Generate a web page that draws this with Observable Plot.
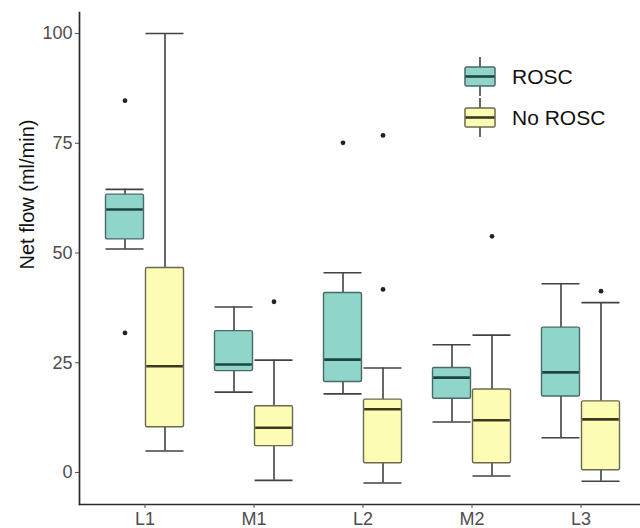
<!DOCTYPE html>
<html><head><meta charset="utf-8">
<script src="https://cdn.jsdelivr.net/npm/d3@7"></script>
<script src="https://cdn.jsdelivr.net/npm/@observablehq/plot@0.6"></script>
<style>
body{margin:0;background:#fff;font-family:"Liberation Sans",Arial,Helvetica,sans-serif;}
#wrap{position:relative;width:640px;height:528px;overflow:hidden;}
.legend{position:absolute;left:462px;top:56px;font-size:21px;color:#111;}
.item{display:flex;align-items:center;height:41px;}
.item svg{display:block;margin-right:14px;}
</style></head><body><div id="wrap"></div>
<script>
const categories = ["L1", "M1", "L2", "M2", "L3"];
const seriesNames = ["ROSC", "No ROSC"];
const yTicks = [0, 25, 50, 75, 100];
const yTitle = "Net flow (ml/min)";

// ROSC
const roscLow  = [50.9, 18.3, 17.9, 11.5, 7.9];
const roscQ1   = [53.1, 23.1, 20.6, 16.8, 17.3];
const roscMed  = [59.9, 24.6, 25.7, 21.6, 22.8];
const roscQ3   = [63.3, 32.2, 40.9, 23.8, 33.0];
const roscHigh = [64.5, 37.7, 45.5, 29.1, 43.0];
const roscOutCat = ["L1", "L1", "L2"];
const roscOutVal = [84.7, 31.8, 75.1];

// No ROSC
const noLow  = [4.9, -1.8, -2.4, -0.8, -2.0];
const noQ1   = [10.3, 6.0, 2.1, 2.1, 0.5];
const noMed  = [24.2, 10.2, 14.4, 11.9, 12.1];
const noQ3   = [46.6, 15.1, 16.6, 18.9, 16.2];
const noHigh = [100, 25.6, 23.8, 31.3, 38.7];
const noOutCat = ["M1", "L2", "L2", "M2", "L3"];
const noOutVal = [38.9, 76.8, 41.7, 53.8, 41.3];

const fills = ["#8fd5c9", "#fdfcb5"];
const strokes = ["#4a6a65", "#69694f"];
const medians = ["#1e4640", "#3a3a22"];
const whisk = "#424242";

const yDomain = [-7.3, 104.8];

function rows(low, q1, med, q3, high) {
  return categories.map((c, i) => ({cat: c, low: low[i], q1: q1[i], med: med[i], q3: q3[i], high: high[i]}));
}
function outs(cats, vals) { return cats.map((c, i) => ({cat: c, v: vals[i]})); }

function boxMarks(data, out, k, iL, iR, dx) {
  return [
    Plot.ruleX(data, {x: "cat", y1: "low", y2: "q1", dx, stroke: whisk, strokeWidth: 1.6}),
    Plot.ruleX(data, {x: "cat", y1: "q3", y2: "high", dx, stroke: whisk, strokeWidth: 1.6}),
    Plot.tickY(data, {x: "cat", y: "low", insetLeft: iL, insetRight: iR, stroke: whisk, strokeWidth: 1.6}),
    Plot.tickY(data, {x: "cat", y: "high", insetLeft: iL, insetRight: iR, stroke: whisk, strokeWidth: 1.6}),
    Plot.barY(data, {x: "cat", y1: "q1", y2: "q3", insetLeft: iL, insetRight: iR, fill: fills[k], stroke: strokes[k], strokeWidth: 1.4, rx: 1.5}),
    Plot.tickY(data, {x: "cat", y: "med", insetLeft: iL + 0.7, insetRight: iR + 0.7, stroke: medians[k], strokeWidth: 2.6}),
    Plot.dot(out, {x: "cat", y: "v", dx, r: 2.4, fill: "#222", stroke: "none"})
  ];
}

const rosc = rows(roscLow, roscQ1, roscMed, roscQ3, roscHigh);
const noR = rows(noLow, noQ1, noMed, noQ3, noHigh);

const chart = Plot.plot({
  width: 640,
  height: 528,
  marginTop: 12,
  marginBottom: 24,
  marginLeft: 79,
  marginRight: 0,
  style: {fontFamily: '"Liberation Sans", Arial, sans-serif', background: "#fff"},
  x: {type: "band", domain: categories, range: [79, 646], paddingInner: 0, paddingOuter: 0.1, axis: null},
  y: {domain: yDomain, axis: null},
  marks: [
    Plot.frame({anchor: "left", stroke: "#2a2a2a", strokeWidth: 1.7}),
    Plot.frame({anchor: "bottom", stroke: "#2a2a2a", strokeWidth: 1.7}),
    Plot.axisY(yTicks, {tickSize: 4, tickPadding: 3, fontSize: 18, color: "#4d4d4d", stroke: "#4d4d4d", label: null}),
    Plot.axisX(categories, {tickSize: 4, tickPadding: 4, fontSize: 18, color: "#4d4d4d", stroke: "#4d4d4d", label: null}),
    Plot.text([yTitle], {frameAnchor: "left", rotate: -90, dx: -52, dy: 11, fontSize: 20, fill: "#111"}),
    ...boxMarks(rosc, outs(roscOutCat, roscOutVal), 0, 15.5, 55.5, -20),
    ...boxMarks(noR, outs(noOutCat, noOutVal), 1, 55.5, 15.5, 20)
  ]
});

const wrap = document.getElementById("wrap");
wrap.appendChild(chart);

const legend = document.createElement("div");
legend.className = "legend";
seriesNames.forEach((name, k) => {
  const item = document.createElement("div");
  item.className = "item";
  item.innerHTML = `<svg width="36" height="41"><line x1="18" x2="18" y1="1" y2="40" stroke="${whisk}" stroke-width="1.6"/><rect x="3" y="11" width="30" height="19" rx="1.5" fill="${fills[k]}" stroke="${strokes[k]}" stroke-width="1.5"/><line x1="3.5" x2="32.5" y1="20.5" y2="20.5" stroke="${medians[k]}" stroke-width="2.6"/></svg><span>${name}</span>`;
  legend.appendChild(item);
});
wrap.appendChild(legend);
</script>
</body></html>
